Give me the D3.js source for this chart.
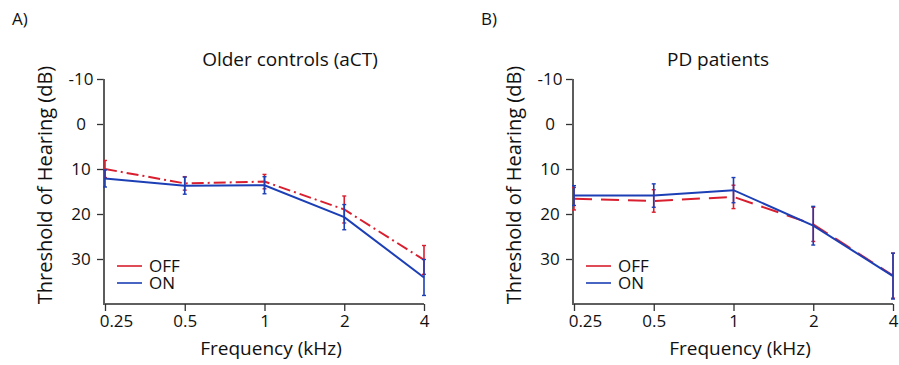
<!DOCTYPE html>
<html>
<head>
<meta charset="utf-8">
<script src="https://cdn.jsdelivr.net/npm/d3@7"></script>
<style>
  body { margin: 0; background: #fff; }
  svg { font-family: "Open Sans", sans-serif; }
</style>
</head>
<body>
<div id="chart"></div>
<script>
// frequencies in kHz
const freqs = [0.25, 0.5, 1, 2, 4]
const yTicks = [-10, 0, 10, 20, 30]
const legendNames = ['OFF', 'ON']

// older controls (aCT)
const aOffMean = [10.0, 13.2, 12.8, 19.0, 30.2]
const aOffErr = [1.9, 1.5, 1.6, 3.0, 3.2]
const aOnMean = [12.1, 13.7, 13.6, 20.7, 34.1]
const aOnErr = [1.9, 1.9, 1.9, 2.8, 4.0]

// PD patients
const bOffMean = [16.6, 17.1, 16.2, 22.3, 33.7]
const bOffErr = [2.5, 2.5, 2.6, 3.8, 5.0]
const bOnMean = [15.9, 15.9, 14.7, 22.6, 33.8]
const bOnErr = [2.2, 2.6, 2.8, 4.3, 5.1]

const width = 899
const height = 365
const red = '#d91f2f'
const blue = '#1c3fb6'

const svg = d3.select('#chart')
  .append('svg')
  .attr('width', width)
  .attr('height', height)

const w = 320
const h = 225

function drawPanel(left, letter, title, titleX, xLabelX, off, on, offDash) {
  const g = svg.append('g')
    .attr('transform', `translate(${left}, 79)`)

  const x = d3.scaleLog().base(2).domain([0.25, 4]).range([1, w])
  const y = d3.scaleLinear().domain([-10, 40]).range([0, h])

  // axes
  const yAxis = d3.axisLeft(y).tickValues(yTicks).tickFormat(d => String(d)).tickSize(7).tickSizeOuter(0)
  const gy = g.append('g').call(yAxis)
  gy.select('.domain').remove()
  gy.selectAll('line').attr('stroke', '#333').attr('stroke-width', 1.3)
  gy.selectAll('text')
    .attr('x', -23)
    .attr('text-anchor', 'middle')
    .style('font-size', '17px')
    .style('font-family', '"Open Sans", sans-serif')
    .attr('fill', '#111')

  const xAxis = d3.axisBottom(x).tickValues(freqs).tickFormat(d => String(d)).tickSize(7).tickSizeOuter(0)
  const gx = g.append('g')
    .attr('transform', `translate(0, ${h})`)
    .call(xAxis)
  gx.select('.domain').remove()
  gx.selectAll('line').attr('stroke', '#333').attr('stroke-width', 1.3)
  gx.selectAll('text')
    .attr('y', 23)
    .attr('dy', null)
    .attr('x', (d, i) => i === 0 ? 11 : 0)
    .style('font-size', '17px')
    .style('font-family', '"Open Sans", sans-serif')
    .attr('fill', '#111')

  g.append('line')
    .attr('x1', 0).attr('x2', w)
    .attr('y1', h).attr('y2', h)
    .attr('stroke', '#2a2a2a')
    .attr('stroke-width', 1.5)
  g.append('line')
    .attr('x1', 0).attr('x2', 0)
    .attr('y1', 0).attr('y2', h + 1)
    .attr('stroke', '#5c5c5c')
    .attr('stroke-width', 2)

  const line = d3.line()
    .x(d => x(d.f))
    .y(d => y(d.m))

  const series = [
    { mean: off[0], err: off[1], color: red, dash: offDash },
    { mean: on[0], err: on[1], color: blue, dash: null }
  ]

  series.forEach(s => {
    const pts = freqs.map((f, i) => ({ f: f, m: s.mean[i], e: s.err[i] }))

    const bars = g.append('g')
    bars.selectAll('line.eb')
      .data(pts)
      .enter()
      .append('line')
      .attr('x1', d => x(d.f)).attr('x2', d => x(d.f))
      .attr('y1', d => y(d.m - d.e)).attr('y2', d => y(d.m + d.e))
      .attr('stroke', s.color)
      .attr('stroke-width', 1.6)
    ;[-1, 1].forEach(sign => {
      bars.selectAll(null)
        .data(pts)
        .enter()
        .append('line')
        .attr('x1', d => x(d.f) - 2).attr('x2', d => x(d.f) + 2)
        .attr('y1', d => y(d.m + sign * d.e)).attr('y2', d => y(d.m + sign * d.e))
        .attr('stroke', s.color)
        .attr('stroke-width', 1.4)
    })

    g.append('path')
      .datum(pts)
      .attr('d', line)
      .attr('fill', 'none')
      .attr('stroke', s.color)
      .attr('stroke-width', 2)
      .attr('stroke-dasharray', s.dash)
  })

  // legend - both entries in one text block, the lines sit very close
  const legY = 187
  const legStep = 17
  ;[red, blue].forEach((c, i) => {
    g.append('line')
      .attr('x1', 13).attr('x2', 38)
      .attr('y1', legY + i * legStep).attr('y2', legY + i * legStep)
      .attr('stroke', c)
      .attr('stroke-width', 1.6)
  })
  const legText = g.append('text')
    .attr('y', legY + 6)
    .style('font-size', '17px')
    .attr('fill', '#111')
  legendNames.forEach((n, i) => {
    legText.append('tspan')
      .attr('x', 45)
      .attr('dy', i === 0 ? 0 : legStep)
      .text(n)
  })

  // texts
  svg.append('text')
    .attr('x', left - 92).attr('y', 25)
    .text(letter)
    .style('font-size', '17px')
    .attr('fill', '#111')

  svg.append('text')
    .attr('x', titleX).attr('y', 66)
    .attr('text-anchor', 'middle')
    .text(title)
    .style('font-size', '19px')
    .attr('fill', '#111')

  svg.append('text')
    .attr('x', xLabelX).attr('y', 355)
    .attr('text-anchor', 'middle')
    .text('Frequency (kHz)')
    .style('font-size', '19px')
    .attr('fill', '#111')

  svg.append('text')
    .attr('transform', `translate(${left - 52}, 185) rotate(-90)`)
    .attr('text-anchor', 'middle')
    .text('Threshold of Hearing (dB)')
    .style('font-size', '20px')
    .attr('fill', '#111')
}

drawPanel(104, 'A)', 'Older controls (aCT)', 290, 271,
  [aOffMean, aOffErr], [aOnMean, aOnErr], '12,4,2,4')
drawPanel(573, 'B)', 'PD patients', 718, 740,
  [bOffMean, bOffErr], [bOnMean, bOnErr], '18,9')
</script>
</body>
</html>
